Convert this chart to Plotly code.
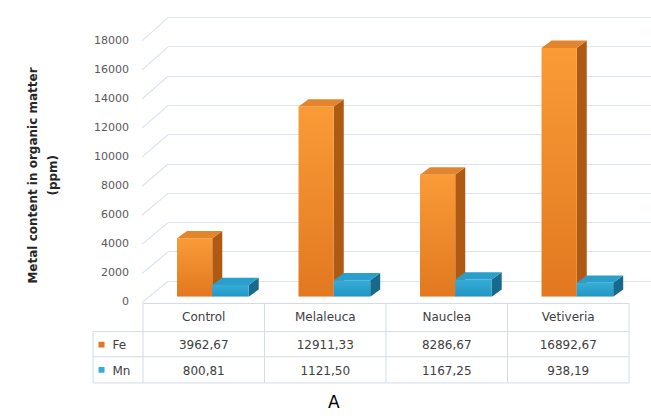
import plotly.graph_objects as go

# ---- data ----
categories = ["Control", "Melaleuca", "Nauclea", "Vetiveria"]
fe_values = [3962.67, 12911.33, 8286.67, 16892.67]
mn_values = [800.81, 1121.50, 1167.25, 938.19]
series_names = ["Fe", "Mn"]
y_ticks = [0, 2000, 4000, 6000, 8000, 10000, 12000, 14000, 16000, 18000]

# ---- page geometry (pixels -> paper) ----
W, H = 651, 419


def px_x(p):
    return p / W


def px_y(p):
    return 1 - p / H


# value scales (pixel position of 0 and pixels per unit)
WALL_ZERO, WALL_K = 284.0, 272.0 / 18000      # back wall gridlines
BAR_ZERO, BAR_K = 300.0, 15.2 / 1000          # bar front plane
LAB_ZERO, LAB_K = 305.0, 270.0 / 18000        # tick labels (front edge)

# colours
FE_FRONT = ("#E27820", "#F99B37")
FE_SIDE = "#AE5A12"
FE_TOP = "#E3852C"
MN_FRONT = ("#2195C3", "#36ADD7")
MN_SIDE = "#176A8B"
MN_TOP = "#2B9FCB"
GRID = "#DCE4EF"
TABLE_LINE = "#D3DCE7"
TEXT = "#404040"

# bar geometry in category units
FE_SPAN = (-0.22, 0.07)
MN_SPAN = (0.07, 0.37)
DEPTH_X = 10.0 / 121.5
DEPTH_Y = 7.5 / BAR_K

fig = go.Figure()

# back wall subplot (x, y): only gridlines
fig.add_trace(go.Scatter(x=[0], y=[0], mode="markers", marker=dict(opacity=0),
                         hoverinfo="skip", xaxis="x", yaxis="y"))
# tick label axis (x2, y3)
fig.add_trace(go.Scatter(x=[0], y=[0], mode="markers", marker=dict(opacity=0),
                         hoverinfo="skip", xaxis="x2", yaxis="y3"))


def face(xs, ys, color=None, gradient=None):
    kw = dict(x=xs, y=ys, mode="lines", fill="toself", line=dict(width=0),
              hoverinfo="skip", xaxis="x2", yaxis="y2")
    if gradient:
        kw["fillgradient"] = dict(type="vertical",
                                  colorscale=[[0, gradient[0]], [1, gradient[1]]])
    else:
        kw["fillcolor"] = color
    fig.add_trace(go.Scatter(**kw))


def column(i, value, span, front, side, top):
    a, b = i + span[0], i + span[1]
    # right side face
    face([b, b + DEPTH_X, b + DEPTH_X, b, b],
         [0, DEPTH_Y, value + DEPTH_Y, value, 0], color=side)
    # front face
    face([a, b, b, a, a], [0, 0, value, value, 0], gradient=front)
    # top face
    face([a, b, b + DEPTH_X, a + DEPTH_X, a],
         [value, value, value + DEPTH_Y, value + DEPTH_Y, value], color=top)


for i in range(len(categories)):
    column(i, fe_values[i], FE_SPAN, FE_FRONT, FE_SIDE, FE_TOP)
    column(i, mn_values[i], MN_SPAN, MN_FRONT, MN_SIDE, MN_TOP)


# ---- data table under the chart ----
def fmt(v):
    return f"{v:.2f}".replace(".", ",")


NB = "\u00a0"
cell_cols = [[NB * 3 + series_names[0], NB * 3 + series_names[1]]] + \
            [[fmt(f), fmt(m)] for f, m in zip(fe_values, mn_values)]
table_font = dict(family="DejaVu Sans", size=12, color=TEXT)

fig.add_trace(go.Table(
    domain=dict(x=[px_x(93), px_x(629)], y=[px_y(392), px_y(308)]),
    columnwidth=[50, 121.5, 121.5, 121.5, 121.5],
    header=dict(values=[""] + categories, height=27.5, align="center",
                line=dict(color="rgba(0,0,0,0)", width=0),
                fill=dict(color="rgba(0,0,0,0)"), font=table_font),
    cells=dict(values=cell_cols, height=26.5,
               align=["left", "center", "center", "center", "center"],
               line=dict(color="rgba(0,0,0,0)", width=0),
               fill=dict(color="rgba(0,0,0,0)"), font=table_font),
))

shapes = []

# table rules
col_edges = [93, 143, 264.5, 386, 507.5, 629]
row_edges = [307, 336, 362, 389]
for k, y in enumerate(row_edges):
    shapes.append(dict(type="line", xref="paper", yref="paper",
                       x0=px_x(143 if k == 0 else 93), x1=px_x(629),
                       y0=px_y(y), y1=px_y(y),
                       line=dict(color=TABLE_LINE, width=1)))
for k, x in enumerate(col_edges):
    shapes.append(dict(type="line", xref="paper", yref="paper",
                       x0=px_x(x), x1=px_x(x),
                       y0=px_y(row_edges[1] if k == 0 else row_edges[0]),
                       y1=px_y(row_edges[-1]),
                       line=dict(color=TABLE_LINE, width=1)))

# series keys in the table
for centre, col in zip([349.5, 375.5], [FE_FRONT[0], MN_FRONT[1]]):
    shapes.append(dict(type="rect", xref="paper", yref="paper",
                       x0=px_x(98.5), x1=px_x(104.5),
                       y0=px_y(centre + 3), y1=px_y(centre - 3),
                       fillcolor=col, line=dict(width=0)))

# side-wall lines joining each tick label to its back-wall gridline
for v in y_ticks:
    shapes.append(dict(type="line", xref="paper", yref="paper",
                       x0=px_x(142), y0=px_y(LAB_ZERO - LAB_K * v + 1),
                       x1=px_x(168), y1=px_y(WALL_ZERO - WALL_K * v),
                       line=dict(color=GRID, width=1.2), layer="below"))

wall_lo, wall_hi = -500, 18500
title_font = dict(family="DejaVu Sans", size=12, color="#262626", weight="bold")
fig.update_layout(
    width=W, height=H,
    margin=dict(l=0, r=0, t=0, b=0),
    paper_bgcolor="white", plot_bgcolor="rgba(0,0,0,0)",
    showlegend=False,
    shapes=shapes,
    xaxis=dict(domain=[px_x(168), 1], range=[0, 1], visible=False),
    yaxis=dict(domain=[px_y(WALL_ZERO - WALL_K * wall_lo), px_y(WALL_ZERO - WALL_K * wall_hi)],
               range=[wall_lo, wall_hi], tickvals=y_ticks, showticklabels=False,
               showgrid=True, gridcolor=GRID, gridwidth=1.3, zeroline=False,
               showline=False, ticks="", anchor="x"),
    xaxis2=dict(domain=[px_x(143), px_x(629)], range=[-0.5, 3.5], visible=False,
                anchor="y2"),
    yaxis2=dict(domain=[px_y(BAR_ZERO), px_y(BAR_ZERO - BAR_K * 18000)],
                range=[0, 18000], visible=False, anchor="x2"),
    yaxis3=dict(domain=[px_y(LAB_ZERO), px_y(LAB_ZERO - LAB_K * 18000)],
                range=[0, 18000], tickvals=y_ticks, tickformat="d",
                anchor="free", position=px_x(129), side="left",
                showgrid=False, zeroline=False, showline=False, ticks="",
                tickfont=dict(family="DejaVu Sans", size=11, color="#595959")),
    annotations=[
        dict(text="Metal content in organic matter", textangle=-90,
             x=px_x(33), y=px_y(175), xref="paper", yref="paper",
             xanchor="center", yanchor="middle", showarrow=False, font=title_font),
        dict(text="(ppm)", textangle=-90,
             x=px_x(53), y=px_y(175), xref="paper", yref="paper",
             xanchor="center", yanchor="middle", showarrow=False, font=title_font),
        dict(text="A", x=px_x(334), y=px_y(409), xref="paper", yref="paper",
             xanchor="center", yanchor="middle", showarrow=False,
             font=dict(family="DejaVu Sans", size=17, color="black")),
    ],
)

fig.write_html("out.html")
